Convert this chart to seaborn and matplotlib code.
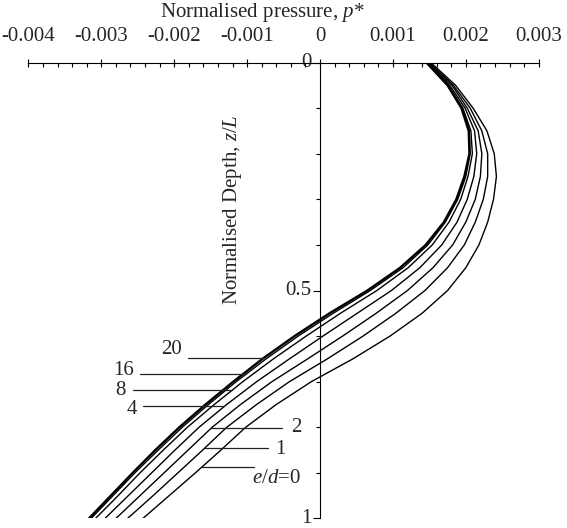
import numpy as np
import pandas as pd
import matplotlib
matplotlib.use("Agg")
import matplotlib.pyplot as plt
import seaborn as sns
from matplotlib.ticker import MultipleLocator

# depth z/L and normalised pressure p* for each eccentricity e/d
depth = [0.00, 0.05, 0.10, 0.15, 0.20, 0.25, 0.30, 0.35, 0.40, 0.45, 0.50,
         0.55, 0.60, 0.65, 0.70, 0.75, 0.80, 0.85, 0.90, 0.95, 1.00]

p_ed0 = [0.00152, 0.00186, 0.00210, 0.00229, 0.00239, 0.00242, 0.00238, 0.00230, 0.00218, 0.00200, 0.00175,
         0.00140, 0.00096, 0.00045, -0.00012, -0.00060, -0.00102, -0.00136, -0.00171, -0.00207, -0.00243]
p_ed1 = [0.00150, 0.00183, 0.00206, 0.00222, 0.00230, 0.00230, 0.00224, 0.00213, 0.00198, 0.00175, 0.00144,
         0.00104, 0.00059, 0.00010, -0.00042, -0.00087, -0.00128, -0.00161, -0.00195, -0.00229, -0.00264]
p_ed2 = [0.00149, 0.00181, 0.00202, 0.00217, 0.00222, 0.00220, 0.00213, 0.00200, 0.00182, 0.00155, 0.00120,
         0.00077, 0.00031, -0.00017, -0.00066, -0.00109, -0.00148, -0.00181, -0.00214, -0.00247, -0.00280]
p_ed4 = [0.00148, 0.00178, 0.00199, 0.00212, 0.00215, 0.00211, 0.00202, 0.00188, 0.00167, 0.00137, 0.00098,
         0.00051, 0.00004, -0.00042, -0.00087, -0.00128, -0.00166, -0.00199, -0.00231, -0.00263, -0.00295]
p_ed8 = [0.00147, 0.00176, 0.00196, 0.00207, 0.00209, 0.00203, 0.00193, 0.00177, 0.00154, 0.00121, 0.00078,
         0.00028, -0.00019, -0.00064, -0.00106, -0.00145, -0.00182, -0.00215, -0.00247, -0.00277, -0.00308]
p_ed16 = [0.00146, 0.00175, 0.00195, 0.00205, 0.00206, 0.00200, 0.00189, 0.00172, 0.00148, 0.00114, 0.00069,
          0.00018, -0.00030, -0.00074, -0.00115, -0.00153, -0.00189, -0.00222, -0.00254, -0.00284, -0.00314]
p_ed20 = [0.00146, 0.00175, 0.00194, 0.00204, 0.00205, 0.00198, 0.00187, 0.00170, 0.00145, 0.00110, 0.00065,
          0.00013, -0.00035, -0.00079, -0.00119, -0.00157, -0.00193, -0.00226, -0.00257, -0.00287, -0.00317]

ecc = ["20", "16", "8", "4", "2", "1", "0"]
curves = [p_ed20, p_ed16, p_ed8, p_ed4, p_ed2, p_ed1, p_ed0]

x_ticks = [-0.004, -0.003, -0.002, -0.001, 0.0, 0.001, 0.002, 0.003]
x_tick_labels = ["-0.004", "-0.003", "-0.002", "-0.001", "0", "0.001", "0.002", "0.003"]
y_ticks = [0, 0.5, 1]
y_tick_labels = ["0", "0.5", "1"]

# curve labels: depth where the leader meets the curve, free end of leader, text spot
label_text = ["20", "16", "8", "4", "2", "1", r"$e/d$=0"]
label_depth = [0.649, 0.684, 0.719, 0.754, 0.802, 0.846, 0.886]
leader_end = [-0.00181, -0.00247, -0.00257, -0.00243, -0.00052, -0.00071, -0.00091]
text_x = [-0.00190, -0.00255, -0.00267, -0.00251, -0.00040, -0.00062, -0.00093]
text_z = [0.630, 0.675, 0.720, 0.760, 0.800, 0.848, 0.912]
text_ha = ["right", "right", "right", "right", "left", "left", "left"]

sns.set_style("white")
plt.rcParams["font.family"] = ["Liberation Serif", "DejaVu Serif"]
plt.rcParams["mathtext.fontset"] = "custom"
plt.rcParams["mathtext.rm"] = "Liberation Serif"
plt.rcParams["mathtext.it"] = "Liberation Serif:italic"

df = pd.concat([pd.DataFrame({"z": depth, "p": c, "ed": e}) for e, c in zip(ecc, curves)])

fig = plt.figure(figsize=(5.67, 5.28), dpi=100)
ax = fig.add_axes([0.0501, 0.0180, 0.9000, 0.8636])

for e in ecc:
    sub = df[df["ed"] == e]
    sns.lineplot(x="p", y="z", data=sub, sort=False, estimator=None, color="black",
                 linewidth=1.7 if e == "20" else 1.0, ax=ax)

for i in range(len(label_text)):
    pc = np.interp(label_depth[i], depth, curves[i])
    ax.plot([pc, leader_end[i]], [label_depth[i], label_depth[i]], color="#222222", lw=0.9)
    ax.text(text_x[i], text_z[i], label_text[i], ha=text_ha[i], va="center", fontsize=15)

ax.set_xlim(-0.004, 0.003)
ax.set_ylim(1, 0)

for s in ["right", "bottom"]:
    ax.spines[s].set_visible(False)
for s in ["top", "left"]:
    ax.spines[s].set_color("black")
    ax.spines[s].set_linewidth(0.8)
ax.spines["left"].set_position(("data", 0))

ax.xaxis.tick_top()
ax.xaxis.set_label_position("top")
ax.set_xticks(x_ticks)
ax.set_xticklabels(x_tick_labels)
ax.xaxis.set_minor_locator(MultipleLocator(0.0002))
ax.tick_params(axis="x", which="major", top=True, bottom=False, direction="inout",
               length=6, width=0.8, color="black", pad=9, labelsize=15)
ax.tick_params(axis="x", which="minor", top=True, bottom=False, direction="in",
               length=3, width=0.8, color="black")

ax.set_yticks(y_ticks)
ax.set_yticklabels(y_tick_labels)
plt.setp(ax.get_yticklabels(), va="center")
ax.yaxis.set_minor_locator(MultipleLocator(0.1))
ax.tick_params(axis="y", which="major", left=True, right=False, direction="out",
               length=5, width=0.8, color="black", pad=1, labelsize=15)
ax.tick_params(axis="y", which="minor", left=True, right=False, direction="out",
               length=3, width=0.8, color="black")

ax.set_xlabel(r"Normalised pressure, $p$*", fontsize=15, labelpad=7)
ax.xaxis.label.set_x(0.458)
ax.set_ylabel(r"Normalised Depth, $z/L$", fontsize=15)
ax.yaxis.set_label_coords(0.4225, 0.677)

fig.savefig("out.png", dpi=100)
